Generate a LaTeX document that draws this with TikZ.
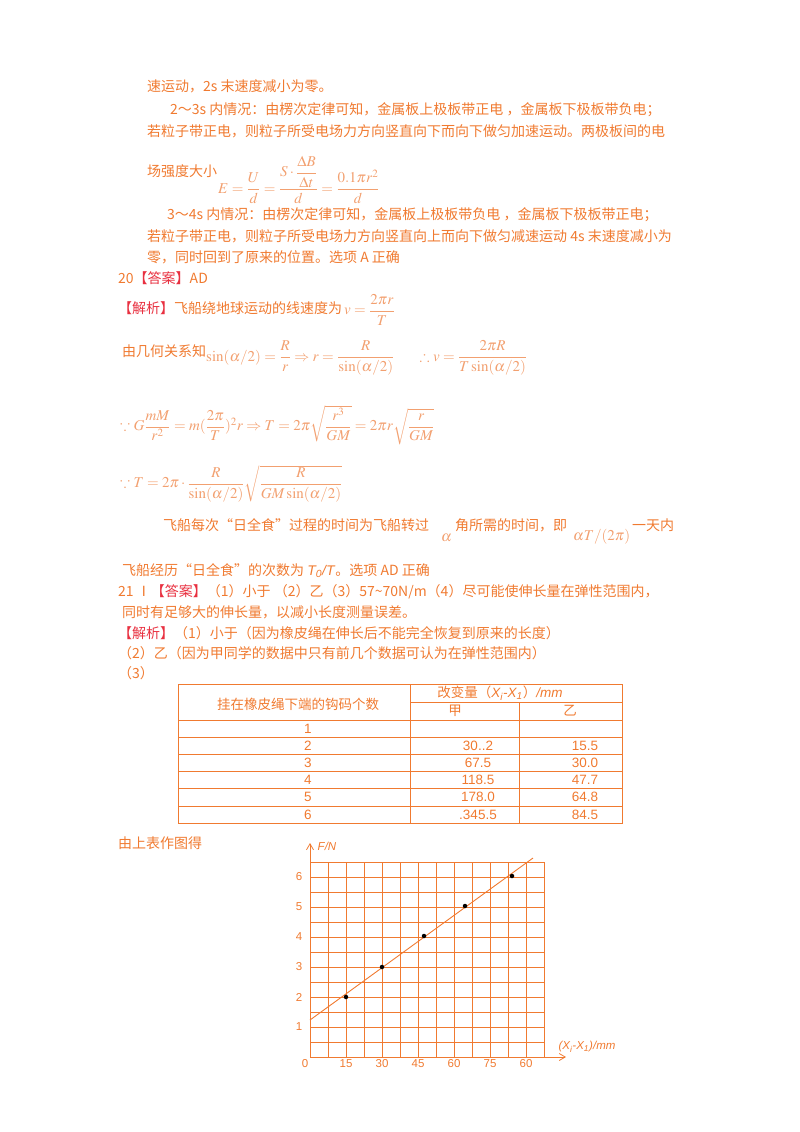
\documentclass[tikz,border=0pt]{standalone}
\usetikzlibrary{arrows.meta}
\usepackage{amsmath,amssymb}
\usepackage{mathptmx}
\usepackage{fontspec}
\setmainfont{Noto Sans CJK SC}
\newfontfamily\ls{Liberation Sans}
\definecolor{og}{HTML}{F07A30}
\definecolor{om}{HTML}{F2A070}
\definecolor{rd}{HTML}{E83040}
\newcommand{\da}{\textcolor{rd}{【答案】}}
\newcommand{\jx}{\textcolor{rd}{【解析】}}
\begin{document}
\begin{tikzpicture}[x=1pt,y=-1pt,
  t/.style={anchor=base west,inner sep=0pt,text=og,font=\fontsize{14}{16}\selectfont},
  m/.style={anchor=west,inner sep=0pt,text=om,font=\fontsize{15}{17}\selectfont},
  tc/.style={inner sep=0pt,text=og,font=\fontsize{13.5}{15}\selectfont},
  g/.style={draw=og,line width=0.8pt},
  dot/.style={circle,fill=black,inner sep=0pt,minimum size=4.5pt}]
\useasboundingbox (0,0) rectangle (800,1132);
\node[t] (l1) at (147,91) {速运动，2s 末速度减小为零。};
\node[t] (l2) at (170,114) {2～3s 内情况：由楞次定律可知，金属板上极板带正电 ，金属板下极板带负电；};
\node[t] (l3) at (147,136) {若粒子带正电，则粒子所受电场力方向竖直向下而向下做匀加速运动。两极板间的电};
\node[t] (l4) at (147,176) {场强度大小};
\node[m] (f1) at (218,180) {$E=\dfrac{U}{d}=\dfrac{S\cdot\dfrac{\Delta B}{\Delta t}}{d}=\dfrac{0.1\pi r^{2}}{d}$};
\node[t] (l5) at (167,219) {3～4s 内情况：由楞次定律可知，金属板上极板带负电 ，金属板下极板带正电；};
\node[t] (l6) at (147,241) {若粒子带正电，则粒子所受电场力方向竖直向上而向下做匀减速运动 4s 末速度减小为};
\node[t] (l7) at (147,262) {零，同时回到了原来的位置。选项 A 正确};
\node[t] (l8) at (118,283) {20\da AD};
\node[t] (l9) at (118,313) {\jx 飞船绕地球运动的线速度为};
\node[m] (f2) at (344,310) {$v=\dfrac{2\pi r}{T}$};
\node[t] (l10) at (122,356) {由几何关系知};
\node[m] (f3) at (206,358) {$\sin(\alpha/2)=\dfrac{R}{r}\Rightarrow r=\dfrac{R}{\sin(\alpha/2)}\hspace{22pt}\therefore v=\dfrac{2\pi R}{T\sin(\alpha/2)}$};
\node[m] (f4) at (120,425) {$\because G\dfrac{mM}{r^{2}}=m(\dfrac{2\pi}{T})^{2}r\Rightarrow T=2\pi\sqrt{\dfrac{r^{3}}{GM}}=2\pi r\sqrt{\dfrac{r}{GM}}$};
\node[m] (f5) at (120,484) {$\because T=2\pi\cdot\dfrac{R}{\sin(\alpha/2)}\sqrt{\dfrac{R}{GM\sin(\alpha/2)}}$};
\node[t] (l11) at (163,530) {飞船每次“日全食”过程的时间为飞船转过};
\node[m] (a1) at (441,538) {$\alpha$};
\node[t] (l12) at (455,530) {角所需的时间，即};
\node[m] (a2) at (573,537) {$\alpha T/(2\pi)$};
\node[t] (l13) at (632,530) {一天内};
\node[t] (l14) at (122,575) {飞船经历“日全食”的次数为 \textit{\ls T\textsubscript{0}/T}。选项 AD 正确};
\node[t] (l15) at (118,596) {21 Ⅰ\da（1）小于 （2）乙（3）57\textasciitilde 70N/m（4）尽可能使伸长量在弹性范围内，};
\node[t] (l16) at (122,617) {同时有足够大的伸长量，以减小长度测量误差。};
\node[t] (l17) at (118,638) {\jx（1）小于（因为橡皮绳在伸长后不能完全恢复到原来的长度）};
\node[t] (l18) at (118,658) {（2）乙（因为甲同学的数据中只有前几个数据可认为在弹性范围内）};
\node[t] (l19) at (118,678) {（3）};
% table
\draw[g] (178,684) rectangle (622,823);
\draw[g] (410,684) -- (410,823);
\draw[g] (410,702) -- (622,702);
\draw[g] (519,702) -- (519,823);
\foreach \yy in {720,737,754,771,788,806} \draw[g] (178,\yy) -- (622,\yy);
\node[tc] (h1) at (298,704) {挂在橡皮绳下端的钩码个数};
\node[tc] (h2) at (500,693) {改变量（{\ls\itshape X\textsubscript{i}-X\textsubscript{1}}）{\ls\itshape /mm}};
\node[tc] (h3) at (455,711) {甲};
\node[tc] (h4) at (570,711) {乙};
\foreach \n/\a/\b [count=\i] in {1//,2/30..2/15.5,3/67.5/30.0,4/118.5/47.7,5/178.0/64.8,6/.345.5/84.5}{
  \pgfmathsetmacro\yc{728.5+17.2*(\i-1)}
  \node[tc,font=\fontsize{13.5}{15}\ls] at (308,\yc) {\n};
  \node[tc,font=\fontsize{13.5}{15}\ls] at (478,\yc) {\a};
  \node[tc,font=\fontsize{13.5}{15}\ls] at (585,\yc) {\b};
}
\node[t] (l20) at (118,848) {由上表作图得};
% graph
\foreach \i in {0,...,13} \draw[g] (310+18*\i,862) -- (310+18*\i,1057);
\foreach \j in {0,...,13} \draw[g] (310,1057-15*\j) -- (544,1057-15*\j);
\coordinate (o) at (310,1057);
\coordinate (ytip) at (310,843);
\coordinate (xtip) at (566,1057);
\draw[g,-{Straight Barb[length=6pt,width=7pt]}] (o) -- (ytip);
\draw[g,-{Straight Barb[length=6pt,width=7pt]}] (o) -- (xtip);
\node[tc,font=\fontsize{11.5}{13}\ls\itshape] (fn) at (327,846) {F/N};
\node[tc,font=\fontsize{11.5}{13}\ls\itshape] (xl) at (587,1047) {(X\textsubscript{i}-X\textsubscript{1})/mm};
\node[tc,font=\fontsize{11.5}{13}\ls] (o0) at (305,1064) {0};
\foreach \v [count=\k] in {1,...,6} \node[tc,font=\fontsize{11.5}{13}\ls] at (299,1057-30*\k) {\v};
\foreach \v [count=\k] in {15,30,45,60,75,60} \node[tc,font=\fontsize{11.5}{13}\ls] at (310+36*\k,1064) {\v};
\coordinate (la) at (310,1020);
\coordinate (lb) at (533,858);
\draw[og,line width=0.9pt] (la) -- (lb);
\node[dot] (p1) at (346,997) {};
\node[dot] (p2) at (382,967) {};
\node[dot] (p3) at (424,936) {};
\node[dot] (p4) at (465,906) {};
\node[dot] (p5) at (512,876) {};
\end{tikzpicture}
\end{document}
